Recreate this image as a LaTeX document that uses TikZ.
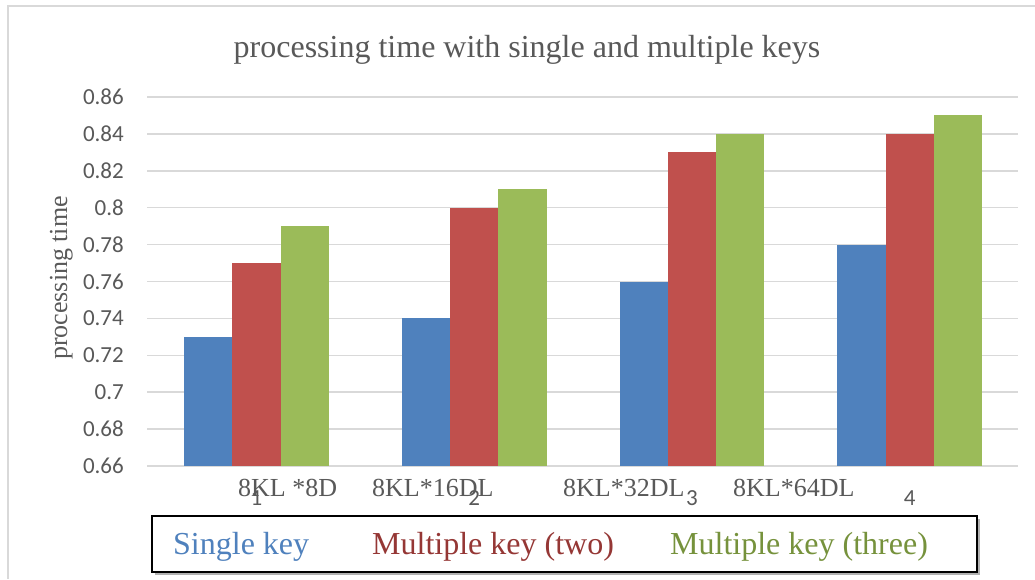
\documentclass[tikz,border=0pt]{standalone}
\usepackage{fontspec}
\setmainfont{Liberation Serif}
\newfontfamily\calfont{Carlito}
\definecolor{bblue}{HTML}{4F81BD}
\definecolor{bred}{HTML}{C0504D}
\definecolor{bgreen}{HTML}{9BBB59}
\definecolor{tblue}{HTML}{4F81BD}
\definecolor{tred}{HTML}{953735}
\definecolor{tgreen}{HTML}{76923C}
\definecolor{txtgray}{HTML}{595959}
\definecolor{gridgray}{HTML}{D9D9D9}
\begin{document}
\begin{tikzpicture}[x=1pt,y=-1pt,
  grid/.style={draw=gridgray,line width=1.5pt},
  ticklab/.style={anchor=east,inner sep=0pt,text=txtgray,font=\calfont\fontsize{23}{27}\selectfont},
  catlab/.style={anchor=base,inner sep=0pt,text=txtgray,font=\calfont\fontsize{23}{27}\selectfont},
  xlab/.style={anchor=base west,inner sep=0pt,text=txtgray,font=\fontsize{26}{30}\selectfont},
  leglab/.style={anchor=base west,inner sep=0pt,font=\fontsize{32}{38}\selectfont},
  bar/.style={draw=none}]
\useasboundingbox (0,0) rectangle (1035,579);
\fill[white] (0,0) rectangle (1035,579);
% outer frame
\draw[draw=gridgray,line width=1.5pt] (1035,6) -- (8,6) -- (8,579);
% title
\node[anchor=base,inner sep=0pt,text=txtgray,font=\fontsize{32}{38}\selectfont] (title) at (527,57) {processing time with single and multiple keys};
% gridlines and tick labels
\foreach \i/\lab in {0/0.66,1/0.68,2/0.7,3/0.72,4/0.74,5/0.76,6/0.78,7/0.8,8/0.82,9/0.84,10/0.86}{
  \draw[grid] (147,466-36.9*\i) -- (1018,466-36.9*\i);
  \node[ticklab] (t\i) at (124,466-36.9*\i) {\lab};
}
% bars
\newcommand{\ybar}[1]{466-(#1-0.66)*1845}
\foreach \g/\a/\b/\c in {0/0.73/0.77/0.79,1/0.74/0.80/0.81,2/0.76/0.83/0.84,3/0.78/0.84/0.85}{
  \pgfmathsetmacro{\xs}{184+217.75*\g}
  \fill[bblue] (\xs,466) rectangle (\xs+48.3,{466-(\a-0.66)*1845});
  \fill[bred] (\xs+48.3,466) rectangle (\xs+96.6,{466-(\b-0.66)*1845});
  \fill[bgreen] (\xs+96.6,466) rectangle (\xs+144.9,{466-(\c-0.66)*1845});
}
% y-axis title
\node[anchor=base,rotate=90,inner sep=0pt,text=txtgray,font=\fontsize{26}{30}\selectfont] (ytitle) at (67,278) {processing time};
% category numbers
\node[catlab] (c1) at (256.5,505) {1};
\node[catlab] (c2) at (474.2,505) {2};
\node[catlab] (c3) at (692,505) {3};
\node[catlab] (c4) at (909.7,505) {4};
% category names
\node[xlab] (n1) at (238,496) {8KL *8D};
\node[xlab] (n2) at (372,496) {8KL*16DL};
\node[xlab] (n3) at (563,496) {8KL*32DL};
\node[xlab] (n4) at (733,496) {8KL*64DL};
% legend
\fill[gray!60] (154.5,518.5) rectangle (979.5,574.5);
\draw[black,line width=1.6pt,fill=white] (152,516) rectangle (977,572);
\node[leglab,text=tblue] (l1) at (173,554) {Single key};
\node[leglab,text=tred] (l2) at (372,554) {Multiple key (two)};
\node[leglab,text=tgreen] (l3) at (670,554) {Multiple key (three)};
\end{tikzpicture}
\end{document}
